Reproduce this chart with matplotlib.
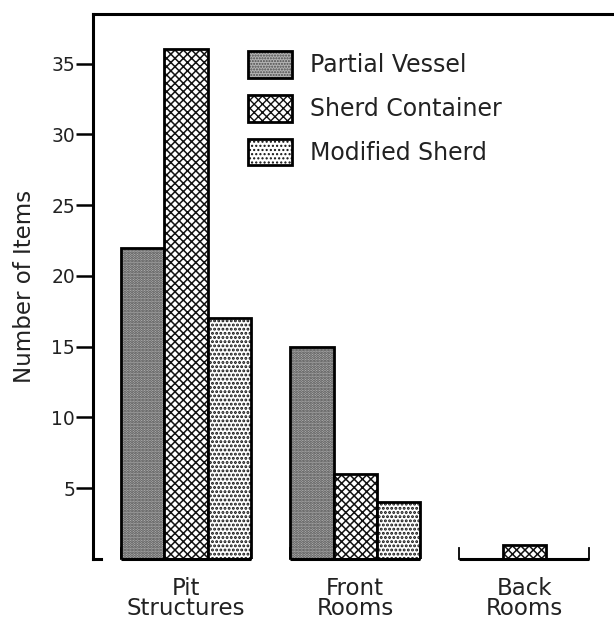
import numpy as np
import matplotlib
matplotlib.use("Agg")
import matplotlib.pyplot as plt
from matplotlib.colors import to_rgba

# values
groups = ['Pit\nStructures', 'Front\nRooms', 'Back\nRooms']
series = ['Partial Vessel', 'Sherd Container', 'Modified Sherd']
partial_vessel = [22, 15, 0]
sherd_container = [36, 6, 1]
modified_sherd = [17, 4, 0]
yticks = [5, 10, 15, 20, 25, 30, 35]

plt.rcParams['font.family'] = ['DejaVu Sans']
plt.rcParams['hatch.linewidth'] = 1.0

fig = plt.figure(figsize=(6.14, 6.21), dpi=100)
ax = fig.add_axes([0.1515, 0.0998, 0.8485, 0.8777])

x = np.arange(len(groups))
w = 0.256
# (facecolor, hatch, hatch colour, hatch linewidth)
styles = [
    ('#b4b4b4', '......', '#4a4a4a', 1.4),
    ('white', 'xxxx', '#111111', 1.1),
    ('white', '....', '#111111', 1.4),
]
values = [partial_vessel, sherd_container, modified_sherd]
handles = []
for i, (vals, (fc, hatch, hc, hlw)) in enumerate(zip(values, styles)):
    b = ax.bar(x + (i - 1) * w, vals, w, facecolor=fc, hatch=hatch,
               edgecolor='black', linewidth=2, label=series[i], zorder=3)
    for p in b:
        p._hatch_color = to_rgba(hc)
        p._hatch_linewidth = hlw
    handles.append(b)

# baseline segment under each group with small end ticks
for xi in x:
    left, right = xi - 1.5 * w, xi + 1.5 * w
    ax.plot([left, right], [0, 0], color='black', lw=2.2, zorder=4,
            solid_capstyle='butt', clip_on=False)
    ax.plot([left, left], [0, 0.75], color='black', lw=1.3, zorder=4, clip_on=False)
    ax.plot([right, right], [0, 0.75], color='black', lw=1.3, zorder=4, clip_on=False)

ax.set_xlim(-0.55, 2.53)
ax.set_ylim(0, 38.5)

ax.spines['right'].set_visible(False)
ax.spines['bottom'].set_visible(False)
ax.spines['left'].set_linewidth(2.2)
ax.spines['top'].set_linewidth(2.2)
ax.plot([-0.55, -0.50], [0, 0], color='black', lw=2.2, clip_on=False)

ax.set_yticks(yticks)
ax.set_yticklabels([str(t) for t in yticks], fontsize=13.5, color='#222222')
ax.tick_params(axis='y', direction='out', length=12, width=1.8, pad=1)
ax.set_xticks(x)
ax.set_xticklabels(groups, fontsize=16.5, linespacing=0.82, color='#222222')
ax.tick_params(axis='x', length=0, pad=13)

ax.set_ylabel('Number of Items', fontsize=16.5, labelpad=11, color='#222222')

leg = ax.legend(handles=handles, labels=series, loc='upper left',
                bbox_to_anchor=(248 / 614, 1 - 51 / 621),
                bbox_transform=fig.transFigure, frameon=False, fontsize=17,
                handlelength=1.86, handleheight=1.37, handletextpad=0.76,
                labelspacing=0.72, borderpad=0, borderaxespad=0)
for t in leg.get_texts():
    t.set_color('#222222')

fig.savefig('out.png', dpi=100)
